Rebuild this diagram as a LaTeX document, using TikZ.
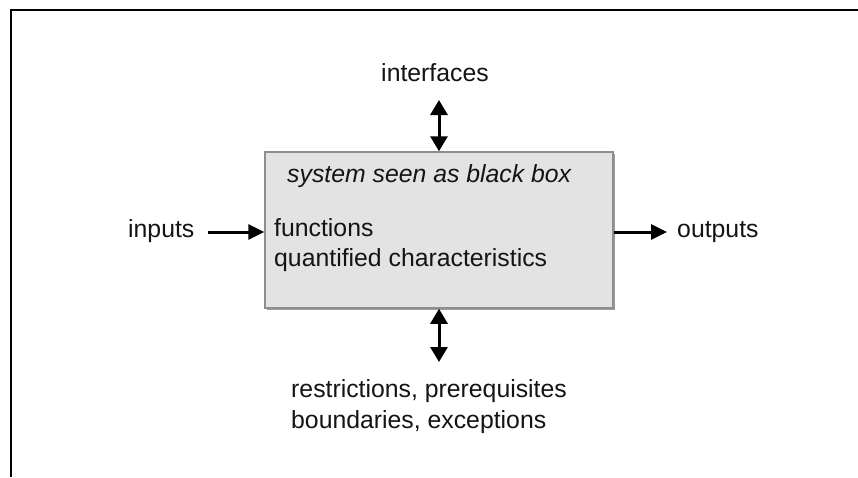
\documentclass[tikz,border=0pt]{standalone}
\usepackage{fontspec}
\setmainfont{Liberation Sans}
\usetikzlibrary{arrows.meta}
\definecolor{boxfill}{HTML}{E3E3E3}
\definecolor{boxline}{HTML}{8E8E8E}
\tikzset{
  lbl/.style={inner sep=0pt, font=\fontsize{24.8}{30}\selectfont, text=black!92},
  conn/.style={line width=3pt, -{Triangle[length=16pt,width=15pt]}},
  dconn/.style={line width=3pt, {Triangle[length=15pt,width=17pt]}-{Triangle[length=15pt,width=17pt]}},
  blackbox/.style={draw=boxline, fill=boxfill, line width=1.5pt, minimum width=348pt, minimum height=156pt, inner sep=0pt}
}
\begin{document}
\begin{tikzpicture}[x=1pt,y=-1pt]
\useasboundingbox (0,0) rectangle (858,477);
\fill[white] (0,0) rectangle (858,477);
% frame
\draw[line width=2.6pt] (11,477) -- (11,10) -- (858,10);
% box with slight shadow
\fill[boxline!85] (267,154) rectangle (615,310);
\node[blackbox] (box) at (439,230) {};
% texts inside box
\node[lbl, anchor=base west, font=\fontsize{24.8}{30}\selectfont\itshape] (title) at (287,182) {system seen as black box};
\node[lbl, anchor=base west] (func) at (274,236) {functions};
\node[lbl, anchor=base west] (quant) at (274,266) {quantified characteristics};
% outer labels
\node[lbl, anchor=base] (interf) at (435,81) {interfaces};
\node[lbl, anchor=base west] (inputs) at (128,237) {inputs};
\node[lbl, anchor=base west] (outputs) at (677,237) {outputs};
\node[lbl, anchor=base west, align=left] (restr) at (291,397) {restrictions, prerequisites};
\node[lbl, anchor=base west, align=left] (bound) at (291,428) {boundaries, exceptions};
% connector end points
\coordinate (itop) at (439,100);
\coordinate (ibot) at (439,362);
\coordinate (ain) at (208,232);
\coordinate (aout) at (667,232);
% connectors
\draw[dconn] (itop) -- (box.north);
\draw[dconn] (box.south) -- (ibot);
\draw[conn] (ain) -- (box.west |- ain);
\draw[conn] (box.east |- aout) -- (aout);
\end{tikzpicture}
\end{document}
